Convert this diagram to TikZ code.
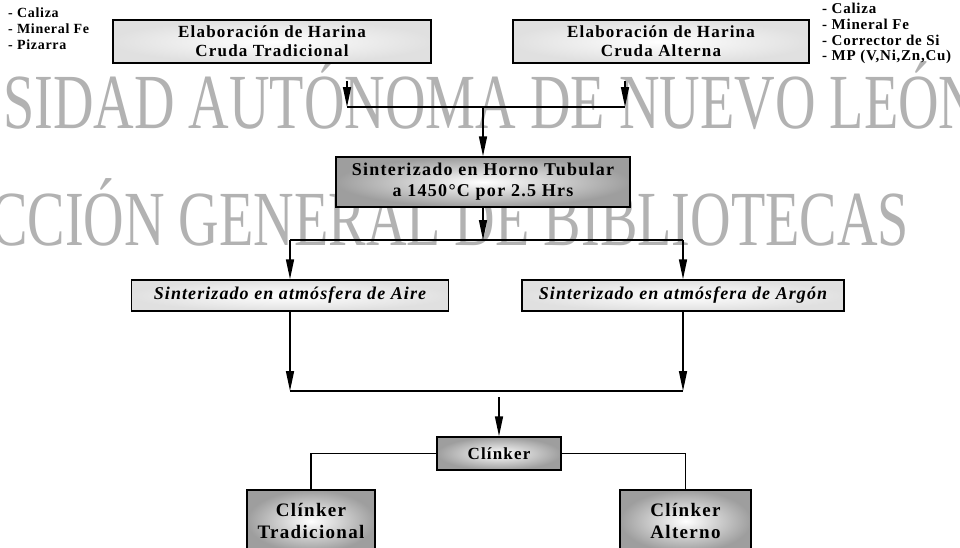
\documentclass[tikz,border=0pt]{standalone}
\usepackage{fontspec}
\setmainfont{Liberation Serif}
\usetikzlibrary{arrows.meta}
\begin{document}
\begin{tikzpicture}[x=1pt,y=-1pt,
  box/.style={draw=black, line width=1.5pt, align=center,
    font=\bfseries\fontsize{17}{19}\selectfont\addfontfeature{LetterSpace=7}, inner sep=0pt,
    shading=radial, inner color=white, outer color=black!12},
  heavy/.style={box, outer color=black!38},
  ital/.style={box, font=\bfseries\itshape\fontsize{18}{20}\selectfont\addfontfeature{LetterSpace=6}},
  listtxt/.style={anchor=west, font=\bfseries\fontsize{14}{16}\selectfont\addfontfeature{LetterSpace=5}, inner sep=0pt},
  rlisttxt/.style={listtxt, font=\bfseries\fontsize{15}{16}\selectfont\addfontfeature{LetterSpace=5}},
  conn/.style={line width=1.6pt},
  arr/.style={conn, -{Triangle[length=20pt,width=8pt]}},
  wm/.style={text=black!30, font=\fontsize{78}{78}\selectfont, inner sep=0pt, xscale=0.72}
]
\clip (0,0) rectangle (960,547);
\fill[white] (0,0) rectangle (960,547);

% watermark
\node[wm, anchor=base west] (wm1) at (3,128) {SIDAD AUTÓNOMA DE NUEVO LEÓN};
\node[wm, anchor=base west] (wm2) at (-10,245) {CCIÓN GENERAL DE BIBLIOTECAS};

% input lists
\node[listtxt] (l1) at (8,13) {- Caliza};
\node[listtxt] (l2) at (8,29) {- Mineral Fe};
\node[listtxt] (l3) at (8,45) {- Pizarra};
\node[rlisttxt] (r1) at (822,8) {- Caliza};
\node[rlisttxt] (r2) at (822,24) {- Mineral Fe};
\node[rlisttxt] (r3) at (822,40) {- Corrector de Si};
\node[rlisttxt] (r4) at (822,57) {- MP (V,Ni,Zn,Cu)};

% boxes
\node[box, minimum width=318pt, minimum height=43pt] (b1) at (272,41.5)
  {Elaboración de Harina\\Cruda Tradicional};
\node[box, minimum width=296pt, minimum height=43pt] (b2) at (661,41.5)
  {Elaboración de Harina\\Cruda Alterna};
\node[heavy, font=\bfseries\fontsize{18}{21}\selectfont\addfontfeature{LetterSpace=7}, minimum width=294pt, minimum height=50pt] (b3) at (483,182)
  {Sinterizado en Horno Tubular\\a 1450°C por 2.5 Hrs};
\node[ital, minimum width=317pt, minimum height=31pt] (b4) at (290,295.5)
  {Sinterizado en atmósfera de Aire};
\node[ital, minimum width=322pt, minimum height=31pt] (b5) at (683,295.5)
  {Sinterizado en atmósfera de Argón};
\node[heavy, minimum width=124pt, minimum height=33pt] (clk) at (499,453.5) {Clínker};
\node[heavy, font=\bfseries\fontsize{19}{22}\selectfont\addfontfeature{LetterSpace=7}, minimum width=128pt, minimum height=62pt] (clkT) at (311,521) {Clínker\\Tradicional};
\node[heavy, font=\bfseries\fontsize{19}{22}\selectfont\addfontfeature{LetterSpace=7}, minimum width=131pt, minimum height=62pt] (clkA) at (685.5,521) {Clínker\\Alterno};

% junctions
\coordinate (j1) at (347,107);
\coordinate (j2) at (625,107);
\coordinate (j4) at (483,240);
\coordinate (j5) at (290,240);
\coordinate (j6) at (683,240);
\coordinate (j7) at (290,391);
\coordinate (j8) at (683,391);

% connectors
\draw[arr] ([yshift=-17pt]b1.south -| j1) -- (j1);
\draw[arr] ([yshift=-17pt]b2.south -| j2) -- (j2);
\draw[conn] (j1) -- (j2);
\draw[arr] (j1 -| b3.north) -- (b3.north);
\draw[arr] (b3.south) -- (j4);
\draw[conn] (j5) -- (j6);
\draw[arr] (j5) -- (b4.north);
\draw[arr] (j6) -- (b5.north);
\draw[arr] (b4.south) -- (j7);
\draw[arr] (b5.south) -- (j8);
\draw[conn] (j7) -- (j8);
\draw[arr] ([yshift=-6pt]j7 -| clk.north) -- (clk.north);
\draw[conn] (clk.west) -| (clkT.north);
\draw[conn] (clk.east) -| (clkA.north);
\end{tikzpicture}
\end{document}
